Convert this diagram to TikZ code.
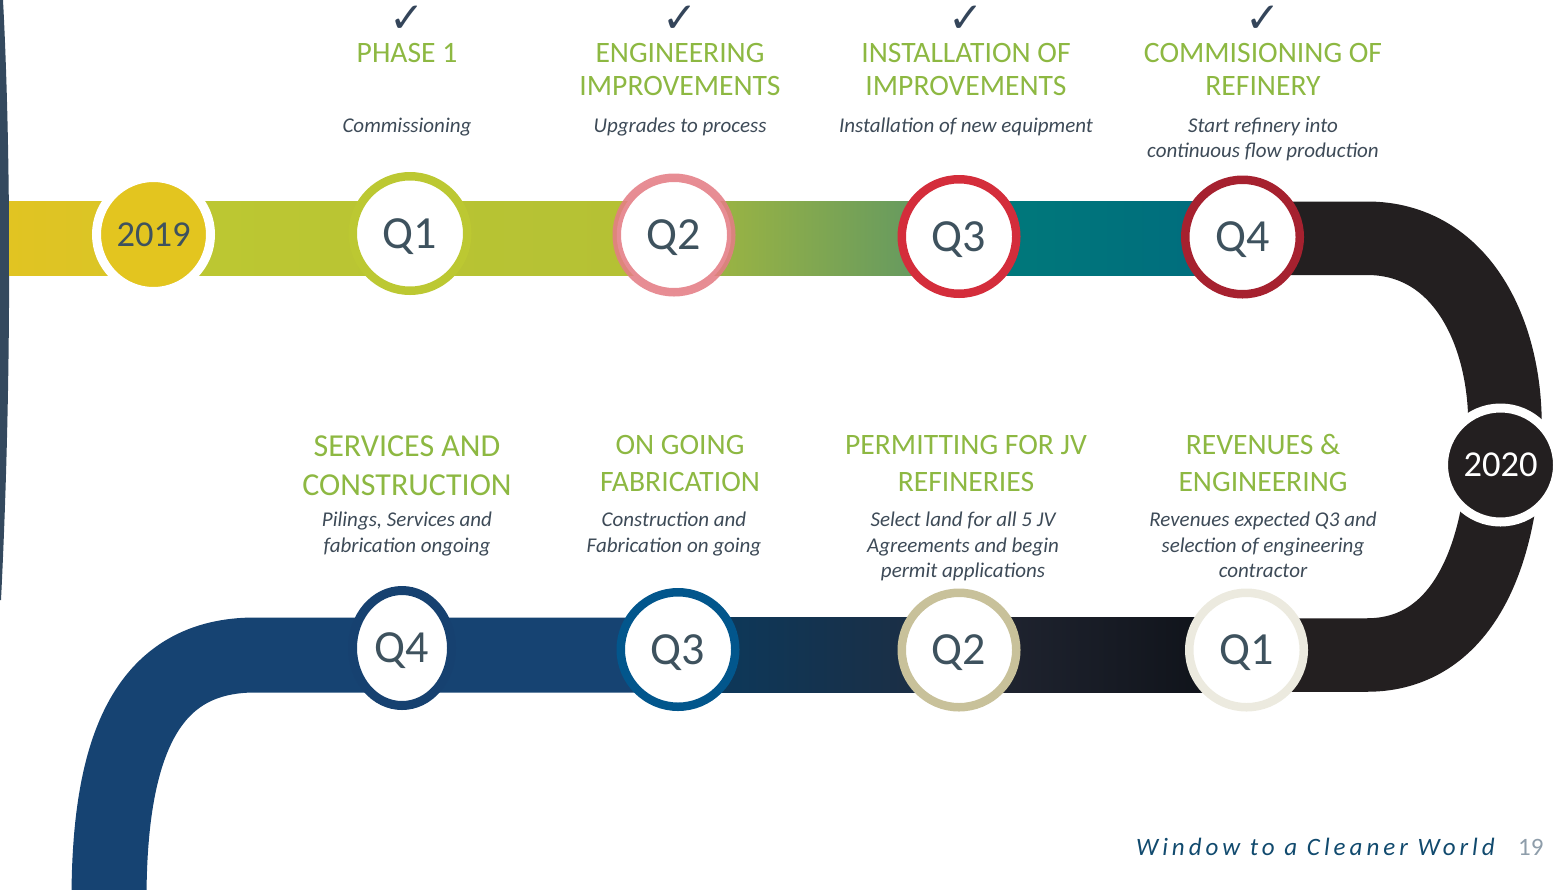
\documentclass[tikz,border=0pt]{standalone}
\usepackage{fontspec}
\setmainfont{Carlito}
\newfontfamily\symfont{DejaVu Sans}
\usetikzlibrary{shapes.geometric}
\definecolor{cstripe}{HTML}{34495E}
\definecolor{yelA}{HTML}{E1C422}
\definecolor{yelB}{HTML}{D8C528}
\definecolor{ygA}{HTML}{BDC832}
\definecolor{ygB}{HTML}{B5C134}
\definecolor{grnC}{HTML}{5A9466}
\definecolor{tealA}{HTML}{007B7A}
\definecolor{tealB}{HTML}{006A7E}
\definecolor{blk}{HTML}{231F20}
\definecolor{navA}{HTML}{164372}
\definecolor{navB}{HTML}{0A3A5E}
\definecolor{navC}{HTML}{1E2C40}
\definecolor{navD}{HTML}{222734}
\definecolor{navE}{HTML}{0D1016}
\definecolor{gold}{HTML}{E3C51F}
\definecolor{rQa}{HTML}{BCC832}
\definecolor{rQb}{HTML}{E47D85}
\definecolor{rQc}{HTML}{D42D3B}
\definecolor{rQd}{HTML}{A6212F}
\definecolor{rBa}{HTML}{ECEADF}
\definecolor{rBb}{HTML}{C8C19A}
\definecolor{rBc}{HTML}{02568C}
\definecolor{rBd}{HTML}{164170}
\definecolor{cqtext}{HTML}{3E525E}
\definecolor{cttl}{HTML}{8DB842}
\definecolor{csub}{HTML}{3D4A57}
\definecolor{cchk}{HTML}{34455A}
\definecolor{cfoot}{HTML}{114A6E}
\definecolor{cpnum}{HTML}{8E9DAA}
\tikzset{
  qc/.style={circle, fill=white, inner sep=0pt, minimum size=114.5pt, line width=8.5pt,
    text=cqtext, text depth=0pt, font=\fontsize{46}{46}\selectfont},
  yc/.style={circle, inner sep=0pt, minimum size=114pt, line width=9pt, draw=white,
    font=\fontsize{36.5}{36.5}\selectfont},
  ttl/.style={anchor=base, inner sep=0pt, text=cttl, font=\fontsize{29.6}{35}\selectfont},
  bigttl/.style={ttl, font=\fontsize{32}{38}\selectfont},
  sub/.style={anchor=base, inner sep=0pt, text=csub, font=\fontsize{21}{25}\selectfont\itshape},
  chkm/.style={anchor=base, inner sep=0pt, text depth=0pt, text height=26pt, text=cchk,
    font=\symfont\fontsize{42}{42}\selectfont},
}
\begin{document}
\begin{tikzpicture}[x=1pt,y=-1pt]
\useasboundingbox (0,0) rectangle (1562,889);
\clip (0,0) rectangle (1562,889);
% left page edge
\fill[cstripe] (0,0) -- (3,0) .. controls (11,150) and (12,380) .. (1,600) -- (0,600) -- cycle;
% top band
\shade[left color=yelA, right color=yelB] (9,201.5) rectangle (154,275);
\shade[left color=ygA, right color=ygB] (153,201.5) rectangle (620,275);
\shade[left color=ygB, right color=grnC] (618,201.5) rectangle (959,275);
\shade[left color=tealA, right color=tealB] (958,201.5) rectangle (1255,275);
% right black curve
\draw[blk, line width=73.5pt] (1242,238.25) -- (1367,238.25)
  .. controls (1460,238.25) and (1505,330) .. (1505,425)
  .. controls (1505,560) and (1460,655) .. (1367,655) -- (1246,655);
% bottom band
\draw[navA, line width=75pt] (109,900) .. controls (109,740) and (150,655) .. (255,655) -- (679,655);
\shade[left color=navB, right color=navC] (678,617.5) rectangle (960,692.5);
\shade[left color=navD, right color=navE] (959,617.5) rectangle (1247,692.5);
% year circles
\node[yc, fill=gold, text=cqtext] (y19) at (153.5,234.5) {2019};
\node[yc, fill=blk, text=white] (y20) at (1500.5,465) {2020};
% top quarter circles
\node[qc, draw=rQa] (tq1) at (410,233.5) {Q1};
\node[qc, draw=rQb, draw opacity=0.88] (tq2) at (674,235) {Q2};
\node[qc, draw=rQc] (tq3) at (959,236.5) {Q3};
\node[qc, draw=rQd] (tq4) at (1242.5,237) {Q4};
% bottom quarter circles
\node[qc, ellipse, minimum width=99pt, minimum height=115pt, line width=9pt, draw=rBd] (bq4) at (402,648) {Q4};
\node[qc, draw=rBc] (bq3) at (678,649.5) {Q3};
\node[qc, draw=rBb] (bq2) at (959,650) {Q2};
\node[qc, draw=rBa] (bq1) at (1246.5,650) {Q1};
% check marks
\node[chkm] (k1) at (407,32.7) {✓};
\node[chkm] (k2) at (680,32.7) {✓};
\node[chkm] (k3) at (966,32.7) {✓};
\node[chkm] (k4) at (1263,32.7) {✓};
% top titles
\node[ttl] (h1) at (407,62) {PHASE 1};
\node[ttl] (h2a) at (680,62) {ENGINEERING};
\node[ttl] (h2b) at (680,95) {IMPROVEMENTS};
\node[ttl] (h3a) at (966,62) {INSTALLATION OF};
\node[ttl] (h3b) at (966,95) {IMPROVEMENTS};
\node[ttl] (h4a) at (1263,62) {COMMISIONING OF};
\node[ttl] (h4b) at (1263,95) {REFINERY};
% top subtitles
\node[sub] (s1) at (407,132) {Commissioning};
\node[sub] (s2) at (680,132) {Upgrades to process};
\node[sub] (s3) at (966,132) {Installation of new equipment};
\node[sub] (s4a) at (1263,132) {Start refinery into};
\node[sub] (s4b) at (1263,157) {continuous flow production};
% bottom titles
\node[bigttl] (g1a) at (407,456) {SERVICES AND};
\node[bigttl] (g1b) at (407,495) {CONSTRUCTION};
\node[ttl] (g2a) at (680,454) {ON GOING};
\node[ttl] (g2b) at (680,491) {FABRICATION};
\node[ttl] (g3a) at (966,454) {PERMITTING FOR JV};
\node[ttl] (g3b) at (966,491) {REFINERIES};
\node[ttl] (g4a) at (1263,454) {REVENUES \&};
\node[ttl] (g4b) at (1263,491) {ENGINEERING};
% bottom subtitles
\node[sub] (u1a) at (407,526) {Pilings, Services and};
\node[sub] (u1b) at (407,552) {fabrication ongoing};
\node[sub] (u2a) at (674,526) {Construction and};
\node[sub] (u2b) at (674,552) {Fabrication on going};
\node[sub] (u3a) at (963,526) {Select land for all 5 JV};
\node[sub] (u3b) at (963,552) {Agreements and begin};
\node[sub] (u3c) at (963,577) {permit applications};
\node[sub] (u4a) at (1263,526) {Revenues expected Q3 and};
\node[sub] (u4b) at (1263,552) {selection of engineering};
\node[sub] (u4c) at (1263,577) {contractor};
% footer
\node[anchor=base east, inner sep=0pt, text=cfoot, font=\fontsize{25}{25}\selectfont\itshape\addfontfeatures{LetterSpace=16}] (foot) at (1495,855) {Window to a Cleaner World};
\node[anchor=base west, inner sep=0pt, text=cpnum, font=\fontsize{25}{25}\selectfont] (pg) at (1518,855) {19};
\end{tikzpicture}
\end{document}
